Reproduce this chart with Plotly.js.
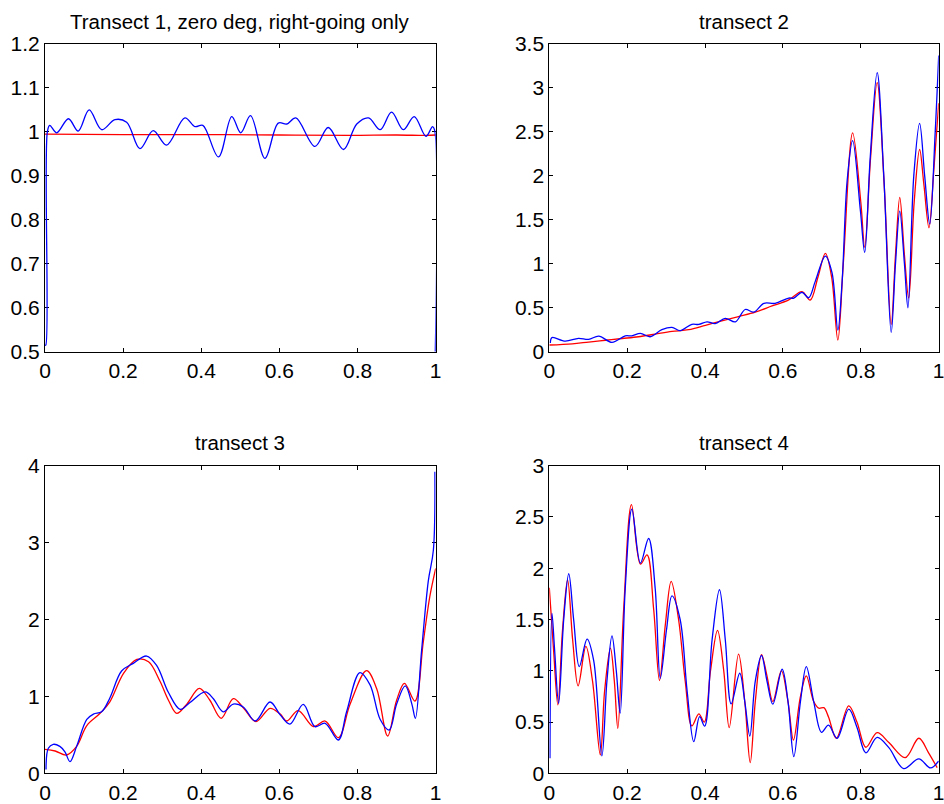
<!DOCTYPE html>
<html>
<head>
<meta charset="utf-8">
<script src="https://cdn.plot.ly/plotly-3.0.1.min.js"></script>
<style>html,body{margin:0;padding:0;background:#fff;}#chart{width:944px;height:804px;}</style>
</head>
<body>
<div id="chart"></div>
<script>
// ---- Data ----
const titles = ["Transect 1, zero deg, right-going only", "transect 2", "transect 3", "transect 4"];

// Transect 1
const t1BlueX = [0, 0.002, 0.006, 0.012, 0.030, 0.060, 0.085, 0.113, 0.145, 0.179, 0.209, 0.243, 0.277, 0.311, 0.358, 0.384, 0.404, 0.444, 0.478, 0.501, 0.526, 0.563, 0.597, 0.619, 0.642, 0.691, 0.725, 0.764, 0.798, 0.828, 0.858, 0.887, 0.917, 0.945, 0.975, 0.992, 0.997, 0.999];
const t1BlueY = [0.515, 0.515, 1.0, 1.015, 0.998, 1.030, 1.002, 1.050, 1.005, 1.028, 1.022, 0.962, 1.003, 0.970, 1.032, 1.012, 1.015, 0.943, 1.035, 0.998, 1.037, 0.940, 1.020, 1.018, 1.032, 0.967, 1.010, 0.960, 1.018, 1.032, 1.005, 1.045, 1.005, 1.035, 0.990, 1.012, 1.005, 0.5];
const t1RedX = [0, 0.2, 0.4, 0.6, 0.78, 0.9, 0.975, 1.0];
const t1RedY = [0.995, 0.994, 0.994, 0.993, 0.992, 0.993, 0.992, 0.993];

// Transect 2
const t2BlueX = [0.0026, 0.0068, 0.041, 0.075, 0.101, 0.127, 0.161, 0.195, 0.212, 0.234, 0.259, 0.289, 0.315, 0.336, 0.366, 0.384, 0.405, 0.426, 0.452, 0.478, 0.503, 0.525, 0.551, 0.580, 0.615, 0.628, 0.649, 0.666, 0.683, 0.709, 0.726, 0.741, 0.752, 0.765, 0.779, 0.799, 0.810, 0.824, 0.842, 0.859, 0.878, 0.889, 0.900, 0.912, 0.921, 0.936, 0.951, 0.964, 0.977, 0.991, 1.0];
const t2BlueY = [0.10, 0.16, 0.12, 0.152, 0.14, 0.178, 0.106, 0.18, 0.18, 0.209, 0.17, 0.25, 0.277, 0.24, 0.311, 0.31, 0.34, 0.32, 0.38, 0.34, 0.48, 0.45, 0.55, 0.55, 0.61, 0.61, 0.675, 0.614, 0.80, 1.088, 0.90, 0.246, 0.80, 1.95, 2.40, 1.6, 1.13, 2.2, 3.174, 2.0, 0.22, 1.0, 1.60, 1.0, 0.50, 2.0, 2.597, 2.0, 1.452, 2.5, 3.37];
const t2RedX = [0, 0.059, 0.101, 0.144, 0.187, 0.229, 0.272, 0.315, 0.358, 0.401, 0.443, 0.486, 0.529, 0.572, 0.615, 0.649, 0.670, 0.690, 0.709, 0.725, 0.741, 0.755, 0.779, 0.800, 0.810, 0.825, 0.842, 0.860, 0.878, 0.889, 0.900, 0.912, 0.923, 0.937, 0.951, 0.962, 0.975, 0.988, 1.0];
const t2RedY = [0.076, 0.09, 0.11, 0.13, 0.15, 0.17, 0.20, 0.23, 0.25, 0.30, 0.35, 0.40, 0.45, 0.52, 0.59, 0.683, 0.588, 0.85, 1.119, 0.85, 0.133, 1.0, 2.49, 1.7, 1.187, 2.2, 3.06, 1.9, 0.31, 1.1, 1.756, 1.1, 0.61, 1.7, 2.30, 1.9, 1.41, 2.1, 2.825];

// Transect 3
const t3BlueX = [0.0026, 0.0085, 0.021, 0.038, 0.051, 0.064, 0.081, 0.107, 0.124, 0.145, 0.166, 0.196, 0.226, 0.260, 0.286, 0.316, 0.346, 0.371, 0.410, 0.431, 0.456, 0.482, 0.508, 0.538, 0.576, 0.602, 0.627, 0.661, 0.691, 0.717, 0.751, 0.772, 0.806, 0.832, 0.858, 0.881, 0.900, 0.922, 0.939, 0.948, 0.964, 0.981, 0.994, 0.998];
const t3BlueY = [0.05, 0.325, 0.377, 0.35, 0.28, 0.152, 0.35, 0.70, 0.77, 0.80, 0.98, 1.33, 1.43, 1.525, 1.40, 1.05, 0.832, 0.92, 1.06, 0.97, 0.80, 0.90, 0.86, 0.68, 0.927, 0.76, 0.64, 0.897, 0.607, 0.65, 0.433, 0.80, 1.31, 1.15, 0.70, 0.563, 0.90, 1.136, 0.90, 0.715, 1.6, 2.5, 2.90, 3.92];
const t3RedX = [0, 0.026, 0.055, 0.081, 0.107, 0.141, 0.166, 0.201, 0.235, 0.265, 0.294, 0.316, 0.337, 0.363, 0.395, 0.422, 0.451, 0.482, 0.508, 0.540, 0.576, 0.602, 0.619, 0.648, 0.687, 0.717, 0.751, 0.781, 0.823, 0.849, 0.877, 0.900, 0.920, 0.947, 0.968, 0.985, 1.0];
const t3RedY = [0.312, 0.29, 0.238, 0.35, 0.62, 0.78, 0.93, 1.30, 1.48, 1.45, 1.20, 0.95, 0.78, 0.90, 1.105, 0.95, 0.715, 0.97, 0.85, 0.672, 0.845, 0.77, 0.68, 0.815, 0.607, 0.68, 0.464, 0.90, 1.335, 1.10, 0.485, 0.95, 1.17, 0.94, 1.70, 2.30, 2.665];

// Transect 4
const t4BlueX = [0.0017, 0.0068, 0.0137, 0.024, 0.037, 0.050, 0.0625, 0.077, 0.097, 0.114, 0.135, 0.148, 0.161, 0.172, 0.182, 0.195, 0.212, 0.234, 0.255, 0.272, 0.285, 0.301, 0.315, 0.336, 0.354, 0.371, 0.386, 0.399, 0.418, 0.437, 0.452, 0.467, 0.489, 0.502, 0.515, 0.529, 0.545, 0.559, 0.574, 0.598, 0.613, 0.628, 0.645, 0.660, 0.679, 0.699, 0.717, 0.739, 0.769, 0.790, 0.813, 0.842, 0.872, 0.910, 0.949, 0.979, 1.0];
const t4BlueY = [0.146, 1.56, 1.2, 0.683, 1.5, 1.946, 1.5, 1.04, 1.308, 1.1, 0.169, 0.9, 1.34, 1.0, 0.586, 1.8, 2.577, 2.05, 2.29, 1.8, 0.927, 1.4, 1.731, 1.5, 0.8, 0.309, 0.553, 0.46, 1.3, 1.79, 1.3, 0.677, 0.976, 0.7, 0.364, 0.9, 1.149, 0.9, 0.674, 1.015, 0.7, 0.163, 0.7, 1.04, 0.7, 0.40, 0.469, 0.342, 0.625, 0.45, 0.20, 0.351, 0.25, 0.046, 0.14, 0.052, 0.12];
const t4RedX = [0, 0.011, 0.022, 0.034, 0.047, 0.060, 0.074, 0.094, 0.111, 0.131, 0.142, 0.157, 0.167, 0.176, 0.191, 0.211, 0.234, 0.251, 0.268, 0.283, 0.298, 0.313, 0.332, 0.349, 0.366, 0.384, 0.398, 0.414, 0.432, 0.448, 0.462, 0.486, 0.502, 0.516, 0.529, 0.545, 0.559, 0.574, 0.596, 0.613, 0.627, 0.645, 0.660, 0.679, 0.692, 0.705, 0.717, 0.737, 0.769, 0.790, 0.813, 0.842, 0.872, 0.914, 0.949, 0.974, 0.996];
const t4RedY = [1.81, 1.2, 0.667, 1.4, 1.887, 1.3, 0.853, 1.237, 0.9, 0.179, 0.8, 1.22, 0.9, 0.439, 1.6, 2.62, 2.04, 2.13, 1.6, 0.905, 1.45, 1.871, 1.5, 0.9, 0.462, 0.579, 0.5, 1.0, 1.393, 1.0, 0.446, 1.162, 0.7, 0.104, 0.7, 1.158, 0.95, 0.70, 0.999, 0.7, 0.325, 0.75, 0.95, 0.7, 0.635, 0.64, 0.55, 0.342, 0.657, 0.5, 0.254, 0.397, 0.30, 0.153, 0.342, 0.2, 0.055];

const yRanges = [[0.5, 1.2], [0, 3.5], [0, 4], [0, 3]];
const yDticks = [0.1, 0.5, 1, 0.5];
const xTicks = [0, 0.2, 0.4, 0.6, 0.8, 1];
const xTickText = ["0", "0.2", "0.4", "0.6", "0.8", "1"];

// ---- Build ----
const BLUE = "#0000ff", RED = "#ff0000";
const series = [
  [t1BlueX, t1BlueY, t1RedX, t1RedY],
  [t2BlueX, t2BlueY, t2RedX, t2RedY],
  [t3BlueX, t3BlueY, t3RedX, t3RedY],
  [t4BlueX, t4BlueY, t4RedX, t4RedY]
];
const traces = [];
series.forEach((s, i) => {
  const ax = i === 0 ? "" : String(i + 1);
  traces.push({x: s[2], y: s[3], xaxis: "x" + ax, yaxis: "y" + ax, type: "scatter", mode: "lines",
    line: {color: RED, width: 1.3, shape: "spline", smoothing: 1}, hoverinfo: "skip"});
  traces.push({x: s[0], y: s[1], xaxis: "x" + ax, yaxis: "y" + ax, type: "scatter", mode: "lines",
    line: {color: BLUE, width: 1.3, shape: "spline", smoothing: 1}, hoverinfo: "skip"});
});

const W = 944, H = 804;
const xDom = [[45 / W, 435.7 / W], [549.3 / W, 938.7 / W]];
const yDom = [[1 - 351.7 / H, 1 - 44 / H], [1 - 773.3 / H, 1 - 465.7 / H]];
const font = {family: "Liberation Sans, Arial, Helvetica, sans-serif", size: 21, color: "#000"};

const layout = {
  width: W, height: H,
  margin: {l: 0, r: 0, t: 0, b: 0},
  paper_bgcolor: "#fff", plot_bgcolor: "#fff",
  showlegend: false,
  font: font,
  annotations: []
};
for (let i = 0; i < 4; i++) {
  const ax = i === 0 ? "" : String(i + 1);
  const col = i % 2, row = Math.floor(i / 2);
  layout["xaxis" + ax] = {
    domain: xDom[col], anchor: "y" + ax, range: [0, 1],
    tickmode: "array", tickvals: xTicks, ticktext: xTickText,
    showline: true, linecolor: "#000", linewidth: 1, mirror: "allticks",
    ticks: "inside", ticklen: 4, tickcolor: "#000", tickwidth: 1,
    showgrid: false, zeroline: false, tickfont: font, fixedrange: true,
    ticklabeloverflow: "allow", layer: "below traces"
  };
  layout["yaxis" + ax] = {
    domain: yDom[row], anchor: "x" + ax, range: yRanges[i],
    dtick: yDticks[i], tick0: 0,
    showline: true, linecolor: "#000", linewidth: 1, mirror: "allticks",
    ticks: "inside", ticklen: 4, tickcolor: "#000", tickwidth: 1,
    showgrid: false, zeroline: false, tickfont: font, fixedrange: true,
    ticklabeloverflow: "allow", layer: "below traces"
  };
  layout.annotations.push({
    text: titles[i], xref: "x" + ax + " domain", yref: "paper",
    x: 0.5, y: row === 0 ? 1 - 21 / H : 1 - 442.7 / H,
    xanchor: "center", yanchor: "middle", showarrow: false,
    font: {family: font.family, size: 20.5, color: "#000"}
  });
}

Plotly.newPlot("chart", traces, layout, {staticPlot: true, displayModeBar: false});
</script>
</body>
</html>
